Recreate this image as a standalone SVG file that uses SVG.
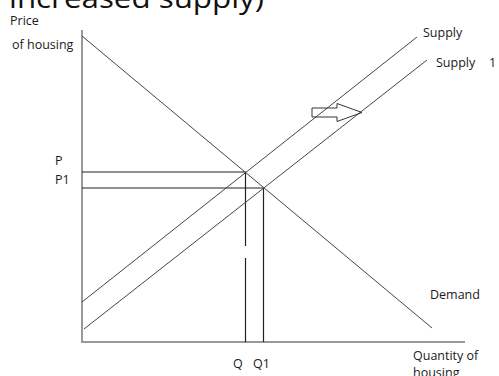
<svg xmlns="http://www.w3.org/2000/svg" width="499" height="376" viewBox="0 0 499 376">
<style>
text{font-family:"Open Sans","Liberation Sans",sans-serif;fill:#1a1a1a;font-size:12.5px}
.axis{stroke:#999;stroke-width:2;fill:none}
.curve{stroke:#444;stroke-width:1;fill:none}
.guide{stroke:#222;stroke-width:1.2;fill:none}
.title{font-size:28px;fill:#111}
</style>
<rect width="499" height="376" fill="#fff"/>
<text class="title" x="9" y="7.5" textLength="255" lengthAdjust="spacingAndGlyphs">increased supply)</text>
<g id="axes">
<line class="axis" x1="82" y1="30" x2="82" y2="343"/>
<line class="axis" x1="81" y1="342" x2="465" y2="342"/>
</g>
<g id="connectors">
<line class="guide" x1="82" y1="172" x2="246" y2="172"/>
<line class="guide" x1="82" y1="188" x2="263" y2="188"/>
<line class="guide" x1="245.5" y1="172" x2="245.5" y2="246"/>
<line class="guide" x1="245.5" y1="258" x2="245.5" y2="342"/>
<line class="guide" x1="263.5" y1="188" x2="263.5" y2="342"/>
</g>
<g id="demand">
<line class="curve" x1="82" y1="36" x2="432" y2="328"/>
<text x="430" y="299">Demand</text>
</g>
<g id="supply">
<line class="curve" x1="82" y1="302" x2="417" y2="37"/>
<text x="423" y="37">Supply</text>
</g>
<g id="supply1">
<line class="curve" x1="84" y1="329" x2="427" y2="60"/>
<text x="436" y="67">Supply</text>
<text x="489" y="67">1</text>
</g>
<g id="shift-arrow">
<polygon points="312,108 337,108 337,103.5 362,112.5 337,121.5 337,117 312,117" fill="none" stroke="#333" stroke-width="1"/>
</g>
<g id="labels">
<text x="10" y="25">Price</text>
<text x="12" y="49">of housing</text>
<text x="55" y="165">P</text>
<text x="55" y="184">P1</text>
<text x="233" y="368">Q</text>
<text x="253" y="368">Q1</text>
<text x="413" y="360">Quantity of</text>
<text x="413" y="377">housing</text>
</g>
</svg>
